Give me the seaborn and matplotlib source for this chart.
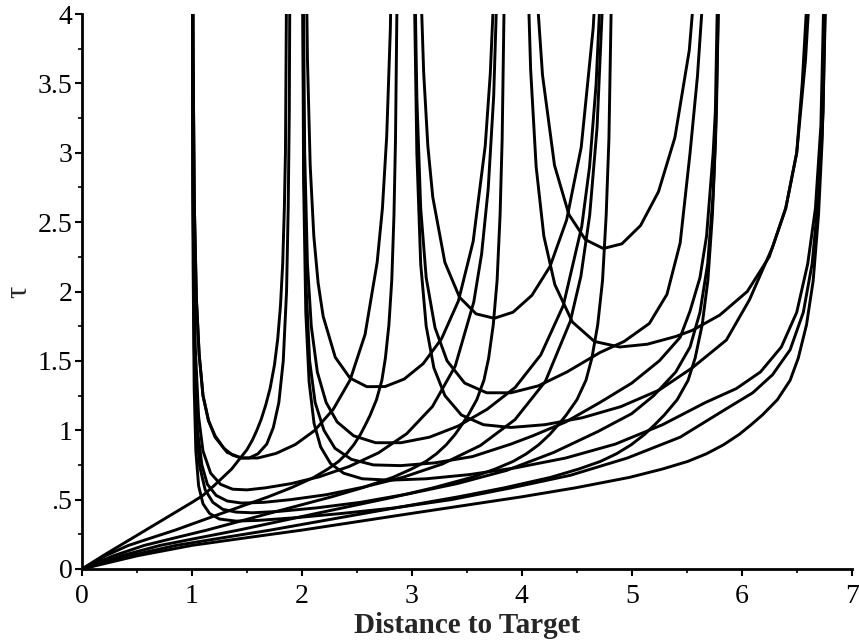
import seaborn as sns
import matplotlib.pyplot as plt
import pandas as pd

# Curvas de tau frente a distancia al objetivo

# Curva más corta que parte del origen
o1_x = [0, 0.2, 0.4, 0.6, 0.8, 1.0, 1.1, 1.2, 1.28, 1.36, 1.43, 1.5, 1.55, 1.59, 1.63, 1.67,
        1.71, 1.75, 1.78, 1.805, 1.825, 1.84, 1.85, 1.86]
o1_tau = [0, 0.10, 0.195, 0.29, 0.385, 0.48, 0.53, 0.60, 0.66, 0.72, 0.79, 0.86, 0.93, 1.0,
          1.08, 1.18, 1.3, 1.47, 1.66, 1.9, 2.2, 2.6, 3.0, 4.2]

# Resto de curvas que parten del origen (mismo perfil de tau)
origin_tau = [0, 0.095, 0.17, 0.225, 0.28, 0.34, 0.40, 0.46, 0.52, 0.585, 0.66, 0.72, 0.775,
              0.83, 0.895, 0.97, 1.04, 1.11, 1.22, 1.36, 1.52, 1.76, 2.08, 2.55, 3.1, 4.2]
o2_x = [0, 0.213, 0.423, 0.634, 0.847, 1.057, 1.267, 1.480, 1.693, 1.901, 2.108, 2.235, 2.333,
        2.405, 2.471, 2.532, 2.578, 2.621, 2.678, 2.727, 2.759, 2.791, 2.817, 2.837, 2.851, 2.866]
o3_x = [0, 0.286, 0.567, 0.849, 1.135, 1.417, 1.698, 1.984, 2.270, 2.548, 2.826, 2.995, 3.127,
        3.223, 3.312, 3.393, 3.455, 3.513, 3.590, 3.655, 3.698, 3.740, 3.775, 3.802, 3.821, 3.841]
o4_x = [0, 0.358, 0.711, 1.065, 1.423, 1.776, 2.130, 2.488, 2.846, 3.194, 3.543, 3.756, 3.920,
        4.041, 4.153, 4.254, 4.332, 4.404, 4.501, 4.583, 4.637, 4.690, 4.734, 4.767, 4.792, 4.816]
o5_x = [0, 0.431, 0.856, 1.280, 1.711, 2.136, 2.561, 2.991, 3.422, 3.841, 4.260, 4.516, 4.714,
        4.860, 4.994, 5.116, 5.209, 5.296, 5.413, 5.512, 5.576, 5.640, 5.692, 5.733, 5.762, 5.791]
o6_x = [0, 0.503, 1.0, 1.496, 1.999, 2.496, 2.992, 3.495, 3.998, 4.488, 4.978, 5.277, 5.508,
        5.678, 5.834, 5.977, 6.086, 6.188, 6.324, 6.440, 6.514, 6.589, 6.650, 6.698, 6.732, 6.766]

# Curvas en U que se detienen a 1
u1z_x = [1.89, 1.885, 1.875, 1.86, 1.83, 1.79, 1.74, 1.68, 1.60, 1.52, 1.45, 1.37, 1.29,
         1.21, 1.15, 1.10, 1.065, 1.04, 1.022, 1.01, 1.004]
u1z_tau = [4.2, 3.3, 2.6, 2.0, 1.5, 1.2, 1.02, 0.9, 0.83, 0.8, 0.8, 0.82, 0.87, 0.96, 1.07,
           1.25, 1.55, 1.95, 2.6, 3.7, 5.5]
u1a_x = [2.850, 2.829, 2.804, 2.771, 2.732, 2.684, 2.574, 2.438, 2.284, 2.115, 1.94, 1.765,
         1.60, 1.45, 1.32, 1.21, 1.15, 1.10, 1.065, 1.04, 1.022, 1.01, 1.004]
u1a_tau = [6.89, 5.03, 3.89, 3.12, 2.60, 2.21, 1.69, 1.362, 1.15, 0.998, 0.897, 0.833,
           0.80, 0.80, 0.84, 0.95, 1.07, 1.25, 1.55, 1.95, 2.6, 3.7, 5.5]
u1b_x = [3.814, 3.783, 3.744, 3.694, 3.634, 3.563, 3.394, 3.187, 2.953, 2.696, 2.43, 2.16,
         1.90, 1.67, 1.50, 1.37, 1.26, 1.17, 1.10, 1.06, 1.03, 1.012, 1.004]
u1b_tau = [6.06, 4.42, 3.41, 2.74, 2.27, 1.925, 1.462, 1.171, 0.975, 0.837, 0.739, 0.665,
           0.615, 0.585, 0.57, 0.575, 0.61, 0.69, 0.85, 1.1, 1.6, 2.7, 4.5]
u1c_x = [4.778, 4.736, 4.684, 4.617, 4.537, 4.441, 4.214, 3.937, 3.623, 3.278, 2.92, 2.56,
         2.22, 1.90, 1.65, 1.45, 1.32, 1.22, 1.14, 1.09, 1.05, 1.025, 1.01, 1.004]
u1c_tau = [5.65, 4.12, 3.18, 2.55, 2.11, 1.786, 1.352, 1.076, 0.890, 0.757, 0.661, 0.59,
           0.535, 0.50, 0.48, 0.475, 0.49, 0.53, 0.61, 0.75, 1.0, 1.5, 2.6, 4.5]
u1d_x = [5.80, 5.77, 5.74, 5.69, 5.62, 5.53, 5.40, 5.20, 5.00, 4.69, 4.29, 3.86, 3.41, 2.96,
         2.53, 2.13, 1.79, 1.55, 1.40, 1.28, 1.19, 1.12, 1.07, 1.04, 1.02, 1.008, 1.003]
u1d_tau = [4.6, 3.3, 2.7, 2.2, 1.85, 1.6, 1.42, 1.25, 1.12, 0.99, 0.84, 0.71, 0.615, 0.54,
           0.48, 0.44, 0.415, 0.405, 0.41, 0.43, 0.48, 0.57, 0.74, 1.0, 1.6, 2.8, 4.5]
u1e_x = [6.77, 6.74, 6.70, 6.64, 6.56, 6.44, 6.28, 6.10, 5.85, 5.44, 4.96, 4.44, 3.9, 3.36,
         2.84, 2.36, 1.95, 1.60, 1.40, 1.25, 1.16, 1.10, 1.06, 1.035, 1.02, 1.01, 1.004]
u1e_tau = [4.6, 3.3, 2.7, 2.2, 1.85, 1.58, 1.4, 1.27, 1.15, 0.95, 0.8, 0.675, 0.584, 0.50,
           0.44, 0.40, 0.37, 0.35, 0.345, 0.36, 0.40, 0.47, 0.60, 0.85, 1.3, 2.2, 4.2]

# Curvas en U que se detienen a 2
u2a_x = [3.810, 3.785, 3.752, 3.713, 3.667, 3.557, 3.423, 3.270, 3.103, 2.93, 2.757, 2.590,
         2.437, 2.303, 2.193, 2.147, 2.108, 2.075, 2.050, 2.030]
u2a_tau = [6.84, 5.30, 4.28, 3.57, 3.05, 2.36, 1.932, 1.66, 1.480, 1.369, 1.315, 1.314,
           1.376, 1.526, 1.821, 2.063, 2.40, 2.91, 3.68, 4.96]
u2b_x = [4.763, 4.725, 4.675, 4.616, 4.545, 4.377, 4.172, 3.940, 3.684, 3.42, 3.16, 2.90,
         2.67, 2.47, 2.32, 2.22, 2.14, 2.085, 2.05, 2.025, 2.01]
u2b_tau = [5.60, 4.34, 3.49, 2.90, 2.47, 1.899, 1.543, 1.309, 1.151, 1.03, 0.95, 0.91,
           0.91, 0.96, 1.06, 1.2, 1.42, 1.75, 2.2, 3.0, 4.5]
u2c_x = [5.79, 5.76, 5.74, 5.68, 5.62, 5.53, 5.44, 5.25, 5.00, 4.71, 4.40, 4.10, 3.90, 3.55,
         3.21, 2.90, 2.65, 2.45, 2.30, 2.20, 2.12, 2.07, 2.04, 2.018, 2.006]
u2c_tau = [4.6, 3.3, 3.0, 2.4, 2.1, 1.86, 1.67, 1.5, 1.34, 1.2, 1.06, 0.96, 0.9, 0.81,
           0.765, 0.745, 0.75, 0.79, 0.87, 1.0, 1.2, 1.5, 2.0, 2.9, 4.5]
u2d_x = [6.76, 6.72, 6.67, 6.60, 6.50, 6.36, 6.17, 5.95, 5.67, 5.28, 4.85, 4.40, 3.95, 3.52,
         3.13, 2.80, 2.55, 2.38, 2.26, 2.17, 2.11, 2.065, 2.035, 2.015, 2.005]
u2d_tau = [4.6, 3.2, 2.6, 2.2, 1.85, 1.6, 1.42, 1.3, 1.2, 1.04, 0.9, 0.8, 0.73, 0.68,
           0.65, 0.64, 0.65, 0.69, 0.76, 0.88, 1.05, 1.35, 1.85, 2.8, 4.5]

# Curvas en U que se detienen a 3
u3a_x = [4.733, 4.695, 4.649, 4.540, 4.407, 4.256, 4.091, 3.92, 3.749, 3.584, 3.433, 3.300,
         3.190, 3.145, 3.107, 3.075]
u3a_tau = [5.45, 4.56, 3.90, 3.04, 2.515, 2.18, 1.972, 1.851, 1.807, 1.839, 1.959, 2.21,
           2.68, 3.05, 3.58, 4.36]
u3b_x = [5.706, 5.657, 5.597, 5.53, 5.44, 5.32, 5.16, 4.93, 4.71, 4.41, 4.15, 3.90, 3.68,
         3.48, 3.32, 3.21, 3.13, 3.08, 3.045, 3.02]
u3b_tau = [5.27, 4.25, 3.55, 3.0, 2.35, 1.98, 1.77, 1.64, 1.56, 1.42, 1.32, 1.27, 1.27,
           1.34, 1.5, 1.74, 2.1, 2.6, 3.4, 4.6]
u3c_x = [6.697, 6.646, 6.58, 6.50, 6.40, 6.28, 6.07, 5.86, 5.55, 5.25, 4.90, 4.55, 4.21,
         3.90, 3.65, 3.45, 3.30, 3.20, 3.13, 3.08, 3.045, 3.02]
u3c_tau = [5.89, 4.56, 3.67, 3.0, 2.6, 2.32, 1.94, 1.65, 1.45, 1.29, 1.17, 1.09, 1.04,
           1.02, 1.04, 1.11, 1.25, 1.45, 1.75, 2.2, 3.0, 4.3]

# Curvas en U que se detienen a 4
u4a_x = [5.632, 5.523, 5.392, 5.243, 5.080, 4.91, 4.741, 4.578, 4.428, 4.297, 4.188, 4.144]
u4a_tau = [4.78, 3.74, 3.11, 2.72, 2.476, 2.344, 2.310, 2.374, 2.555, 2.91, 3.56, 4.07]
u4b_x = [6.66, 6.60, 6.55, 6.50, 6.40, 6.25, 6.05, 5.80, 5.55, 5.40, 5.14, 4.89, 4.66,
         4.46, 4.30, 4.20, 4.13, 4.08, 4.05]
u4b_tau = [5.0, 4.2, 3.5, 3.0, 2.6, 2.25, 2.0, 1.83, 1.72, 1.676, 1.62, 1.60, 1.64,
           1.78, 2.05, 2.4, 2.9, 3.6, 4.4]

x_ticks = [0, 1, 2, 3, 4, 5, 6, 7]
y_ticks = [0, 0.5, 1, 1.5, 2, 2.5, 3, 3.5, 4]
y_tick_labels = ["0", ".5", "1", "1.5", "2", "2.5", "3", "3.5", "4"]

curves = {
    "o1": (o1_x, o1_tau), "o2": (o2_x, origin_tau), "o3": (o3_x, origin_tau),
    "o4": (o4_x, origin_tau), "o5": (o5_x, origin_tau), "o6": (o6_x, origin_tau),
    "u1z": (u1z_x, u1z_tau),
    "u1a": (u1a_x, u1a_tau), "u1b": (u1b_x, u1b_tau), "u1c": (u1c_x, u1c_tau),
    "u1d": (u1d_x, u1d_tau), "u1e": (u1e_x, u1e_tau),
    "u2a": (u2a_x, u2a_tau), "u2b": (u2b_x, u2b_tau), "u2c": (u2c_x, u2c_tau),
    "u2d": (u2d_x, u2d_tau),
    "u3a": (u3a_x, u3a_tau), "u3b": (u3b_x, u3b_tau), "u3c": (u3c_x, u3c_tau),
    "u4a": (u4a_x, u4a_tau), "u4b": (u4b_x, u4b_tau),
}
rows = []
for name, (xs, ts) in curves.items():
    for x, t in zip(xs, ts):
        rows.append({"curva": name, "dist": x, "tau": t})
df = pd.DataFrame(rows)

sns.set_theme(style="ticks")
plt.rcParams["font.family"] = ["Liberation Serif", "DejaVu Serif"]

fig = plt.figure(figsize=(8.59, 6.4), dpi=100)
ax = fig.add_axes([0.0955, 0.111, 0.896, 0.867])

sns.lineplot(data=df, x="dist", y="tau", units="curva", estimator=None,
             sort=False, color="black", linewidth=2.1, ax=ax)

ax.set_xlim(0, 7)
ax.set_ylim(0, 4)
ax.set_xticks(x_ticks)
ax.set_xticks([0.5, 1.5, 2.5, 3.5, 4.5, 5.5, 6.5], minor=True)
ax.set_yticks(y_ticks)
ax.set_yticklabels(y_tick_labels)
ax.set_yticks([0.25, 0.75, 1.25, 1.75, 2.25, 2.75, 3.25, 3.75], minor=True)
ax.tick_params(axis="both", which="major", labelsize=20, length=5, width=1.5,
               direction="out", color="black", labelcolor="black")
ax.tick_params(axis="x", which="major", pad=6)
ax.tick_params(axis="y", which="major", pad=2)
ax.tick_params(axis="both", which="minor", length=3, width=1.2, color="black")

for side in ["top", "right"]:
    ax.spines[side].set_visible(False)
for side in ["left", "bottom"]:
    ax.spines[side].set_linewidth(2)
    ax.spines[side].set_color("black")

ax.set_xlabel("Distance to Target", fontsize=21, fontweight="bold", labelpad=2)
ax.set_ylabel("τ", fontsize=22, labelpad=3)

fig.savefig("out.png", dpi=100)
